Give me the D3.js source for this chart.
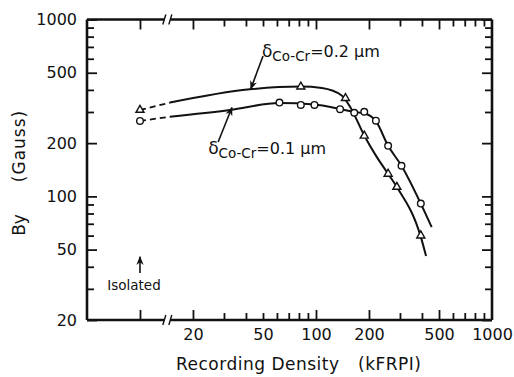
<!DOCTYPE html>
<html>
<head>
<meta charset="utf-8">
<script src="https://cdn.jsdelivr.net/npm/d3@7"></script>
<style>
body { margin: 0; background: #fff; }
text { font-family: "DejaVu Sans", sans-serif; fill: #111; }
</style>
</head>
<body>
<script>
var isolated01 = [[10, 267]];
var isolated02 = [[10, 308]];
var points01 = [[62, 339], [82, 329], [98, 329], [137, 311], [165, 297], [188, 301],
                [219, 268], [257, 193], [306, 149], [394, 91]];
var points02 = [[82, 417], [147, 359], [188, 220], [257, 134], [288, 113], [394, 60]];

// hand drawn fit curves
var fit01Dash = [[10, 267], [14.8, 282]];
var fit01 = [[14.8, 282], [32.5, 308], [62, 337], [98, 331], [137, 312], [165, 300], [188, 295],
             [219, 266], [257, 193], [306, 149], [394, 91], [454, 67]];
var fit02Dash = [[10, 308], [14.8, 339]];
var fit02 = [[14.8, 339], [42, 403], [82, 418], [108, 410], [140, 372], [157, 318], [188, 221],
             [219, 170], [257, 134], [288, 113], [394, 59], [422, 46]];

// ticks
var xLabelTicks = [20, 50, 100, 200, 500, 1000];
var xMajorTicks = [10, 20, 100, 200, 500];
var xMinorTicks = [30, 40, 50, 60, 70, 80, 90, 300, 400, 600, 700, 800, 900];
var yLabelTicks = [20, 50, 100, 200, 500, 1000];
var yMinorTicks = [30, 40, 60, 70, 80, 90, 300, 400, 600, 700, 800, 900];
var xBreak = 14.3;

var margin = {top: 19.5, right: 22, bottom: 57, left: 87},
    width = 514 - margin.left - margin.right,
    height = 377 - margin.top - margin.bottom;

var x = d3.scaleLog().domain([5, 1000]).range([0, width]);
var y = d3.scaleLog().domain([20, 1000]).range([height, 0]);

var svg = d3.select("body").append("svg")
    .attr("width", 514)
    .attr("height", 377)
  .append("g")
    .attr("transform", "translate(" + margin.left + "," + margin.top + ")");

var defs = svg.append("defs");
defs.append("marker")
    .attr("id", "head")
    .attr("viewBox", "0 0 10 10")
    .attr("refX", 9).attr("refY", 5)
    .attr("markerWidth", 9).attr("markerHeight", 9)
    .attr("markerUnits", "userSpaceOnUse")
    .attr("orient", "auto")
  .append("path")
    .attr("d", "M0,1 L10,5 L0,9 L3,5 Z")
    .attr("fill", "#111");

// ticks (pointing inward)
function styleAxis(g) {
  g.select(".domain").remove();
  g.selectAll(".tick line").attr("stroke", "#111").attr("stroke-width", 1.8);
  g.selectAll("text").style("font-size", "16px").attr("fill", "#111");
}
svg.append("g").attr("transform", "translate(0," + height + ")")
    .call(d3.axisBottom(x).tickValues(xLabelTicks).tickSizeInner(0).tickSizeOuter(0).tickPadding(9)
      .tickFormat(d3.format("d"))).call(styleAxis);
svg.append("g").attr("transform", "translate(0," + height + ")")
    .call(d3.axisBottom(x).tickValues(xMajorTicks).tickSizeInner(-10).tickSizeOuter(0).tickFormat("")).call(styleAxis);
svg.append("g").attr("transform", "translate(0," + height + ")")
    .call(d3.axisBottom(x).tickValues(xMinorTicks).tickSizeInner(-7).tickSizeOuter(0).tickFormat("")).call(styleAxis);
svg.append("g")
    .call(d3.axisTop(x).tickValues(xMajorTicks).tickSizeInner(-10).tickSizeOuter(0).tickFormat("")).call(styleAxis);
svg.append("g")
    .call(d3.axisTop(x).tickValues(xMinorTicks).tickSizeInner(-7).tickSizeOuter(0).tickFormat("")).call(styleAxis);

svg.append("g")
    .call(d3.axisLeft(y).tickValues(yLabelTicks).tickSizeInner(-10).tickSizeOuter(0).tickPadding(10)
      .tickFormat(d3.format("d"))).call(styleAxis);
svg.append("g")
    .call(d3.axisLeft(y).tickValues(yMinorTicks).tickSizeInner(-7).tickSizeOuter(0).tickFormat("")).call(styleAxis);
svg.append("g").attr("transform", "translate(" + width + ",0)")
    .call(d3.axisRight(y).tickValues(yLabelTicks).tickSizeInner(-10).tickSizeOuter(0).tickFormat("")).call(styleAxis);
svg.append("g").attr("transform", "translate(" + width + ",0)")
    .call(d3.axisRight(y).tickValues(yMinorTicks).tickSizeInner(-7).tickSizeOuter(0).tickFormat("")).call(styleAxis);

// frame with the broken x axis
var bx = x(xBreak);
var frame = svg.append("g").attr("stroke", "#111").attr("stroke-width", 2.6).attr("fill", "none");
frame.append("line").attr("x1", 0).attr("y1", 0).attr("x2", 0).attr("y2", height);
frame.append("line").attr("x1", width).attr("y1", 0).attr("x2", width).attr("y2", height);
[0, height].forEach(function(yy) {
  frame.append("line").attr("x1", 0).attr("y1", yy).attr("x2", bx - 3).attr("y2", yy);
  frame.append("line").attr("x1", bx + 3).attr("y1", yy).attr("x2", width).attr("y2", yy);
  [-3, 3].forEach(function(o) {
    frame.append("line")
        .attr("stroke-width", 1.4)
        .attr("x1", bx + o - 1.5).attr("y1", yy + 5)
        .attr("x2", bx + o + 1.5).attr("y2", yy - 5);
  });
});

// curves
var line = d3.line()
    .curve(d3.curveMonotoneX)
    .x(function(d) { return x(d[0]); })
    .y(function(d) { return y(d[1]); });

[fit01, fit02].forEach(function(f) {
  svg.append("path").attr("d", line(f))
      .attr("fill", "none").attr("stroke", "#111").attr("stroke-width", 2);
});
[fit01Dash, fit02Dash].forEach(function(f) {
  svg.append("path").attr("d", line(f))
      .attr("fill", "none").attr("stroke", "#111").attr("stroke-width", 1.8)
      .attr("stroke-dasharray", "6,4");
});

// markers
svg.selectAll(".circ")
    .data(isolated01.concat(points01))
  .enter().append("circle")
    .attr("class", "circ")
    .attr("r", 3.3)
    .attr("cx", function(d) { return x(d[0]); })
    .attr("cy", function(d) { return y(d[1]); })
    .attr("fill", "#fff").attr("stroke", "#111").attr("stroke-width", 1.4);

var tri = d3.symbol().type(d3.symbolTriangle).size(28);
svg.selectAll(".tri")
    .data(isolated02.concat(points02))
  .enter().append("path")
    .attr("class", "tri")
    .attr("d", tri)
    .attr("transform", function(d) { return "translate(" + x(d[0]) + "," + y(d[1]) + ")"; })
    .attr("fill", "#fff").attr("stroke", "#111").attr("stroke-width", 1.4);

// curve labels and arrows
function deltaLabel(px, py, val) {
  var t = svg.append("text").attr("x", px).attr("y", py).style("font-size", "16px");
  t.append("tspan").style("font-size", "17px").text("δ");
  t.append("tspan").style("font-size", "13.5px").attr("dy", 4).text("Co-Cr");
  t.append("tspan").attr("dy", -4).text("=" + val + " µm");
}
deltaLabel(x(49.3), y(614), "0.2");
deltaLabel(x(24.4), y(174), "0.1");

function arrow(from, to) {
  svg.append("line")
      .attr("x1", x(from[0])).attr("y1", y(from[1]))
      .attr("x2", x(to[0])).attr("y2", y(to[1]))
      .attr("stroke", "#111").attr("stroke-width", 1.6)
      .attr("marker-end", "url(#head)");
}
arrow([50, 622], [42.6, 405]);
arrow([27.8, 203], [33.3, 318]);
arrow([10, 36.9], [10, 45.5]);

svg.append("text")
    .attr("x", x(10) - 6)
    .attr("y", y(29.6))
    .attr("text-anchor", "middle")
    .style("font-size", "13.5px")
    .text("Isolated");

// axis titles
svg.append("text")
    .attr("x", 176 - margin.left)
    .attr("y", 370 - margin.top)
    .style("font-size", "17px")
    .style("letter-spacing", "0.5px")
    .text("Recording Density");
svg.append("text")
    .attr("x", 358 - margin.left)
    .attr("y", 370 - margin.top)
    .style("font-size", "17px")
    .style("letter-spacing", "0.5px")
    .text("(kFRPI)");

svg.append("text")
    .attr("transform", "translate(" + (25 - margin.left) + "," + (225 - margin.top) + ") rotate(-90)")
    .attr("text-anchor", "middle")
    .style("font-size", "17px")
    .text("By");
svg.append("text")
    .attr("transform", "translate(" + (25 - margin.left) + "," + (146 - margin.top) + ") rotate(-90)")
    .attr("text-anchor", "middle")
    .style("font-size", "17px")
    .style("letter-spacing", "1px")
    .text("(Gauss)");
</script>
</body>
</html>
